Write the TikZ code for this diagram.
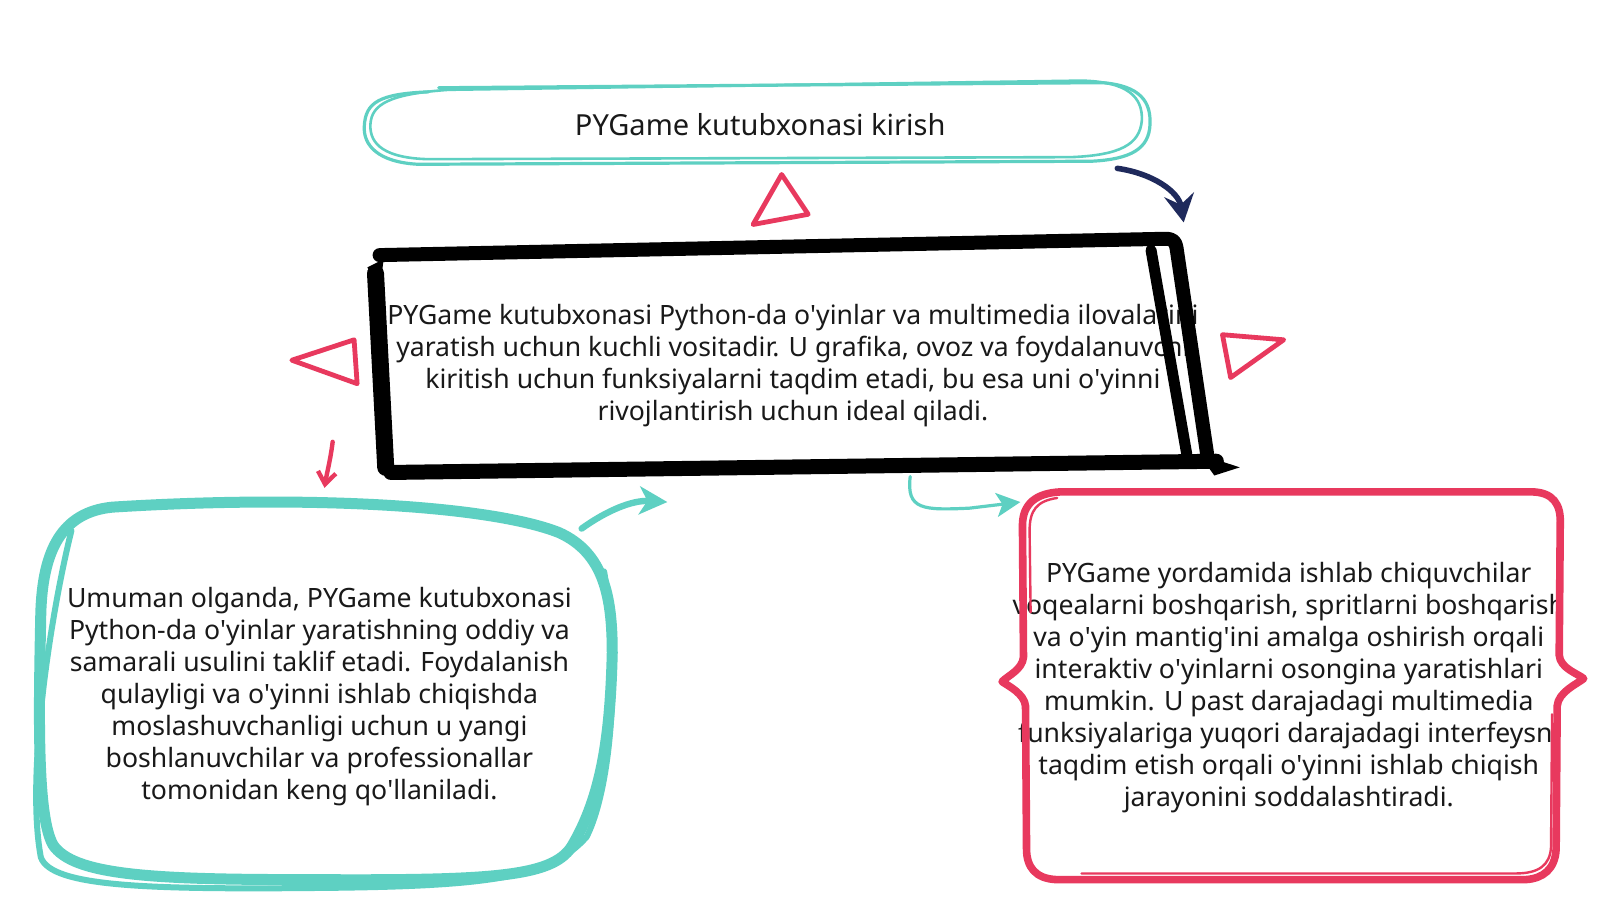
\documentclass[tikz,border=0pt]{standalone}
\usepackage{fontspec}
\setmainfont{Noto Sans}
\usetikzlibrary{arrows.meta}
\definecolor{teal1}{HTML}{5ED0C2}
\definecolor{pink1}{HTML}{E8395E}
\definecolor{navy1}{HTML}{1F2A5C}
\newcommand{\ap}{\textquotesingle}
\tikzset{
  txt/.style={align=center, inner sep=0pt, font=\fontsize{13.3}{16}\selectfont, text=black!90},
  tealline/.style={draw=teal1, line width=1.6pt, line cap=round, line join=round},
  blackline/.style={draw=black, line width=6pt, line cap=round, line join=round},
  pinkline/.style={draw=pink1, line width=3.8pt, line cap=round, line join=round},
  tri/.style={draw=pink1, line width=2.4pt, line join=round},
  arr/.style={line cap=round}
}
\begin{document}
\begin{tikzpicture}[x=0.5102pt,y=-0.5102pt]
\useasboundingbox[fill=white] (0,0) rectangle (1568,882);

% ---------- text nodes ----------
\node[txt, font=\fontsize{14.5}{17}\selectfont] (top) at (745,122) {PYGame kutubxonasi kirish};
\node[txt] (mid) at (777,358) {PYGame kutubxonasi Python-da o\ap yinlar va multimedia ilovalarini\\
yaratish uchun kuchli vositadir. U grafika, ovoz va foydalanuvchi\\
kiritish uchun funksiyalarni taqdim etadi, bu esa uni o\ap yinni\\
rivojlantirish uchun ideal qiladi.};
\node[txt] (left) at (313,683) {Umuman olganda, PYGame kutubxonasi\\
Python-da o\ap yinlar yaratishning oddiy va\\
samarali usulini taklif etadi. Foydalanish\\
qulayligi va o\ap yinni ishlab chiqishda\\
moslashuvchanligi uchun u yangi\\
boshlanuvchilar va professionallar\\
tomonidan keng qo\ap llaniladi.};
\node[txt] (right) at (1263,674) {PYGame yordamida ishlab chiquvchilar\\
voqealarni boshqarish, spritlarni boshqarish\\
va o\ap yin mantig\ap ini amalga oshirish orqali\\
interaktiv o\ap yinlarni osongina yaratishlari\\
mumkin. U past darajadagi multimedia\\
funksiyalariga yuqori darajadagi interfeysni\\
taqdim etish orqali o\ap yinni ishlab chiqish\\
jarayonini soddalashtiradi.};

% ---------- top pill (teal, sketchy double stroke) ----------
\draw[tealline] (430,86) -- (1080,81) .. controls (1118,84) and (1128,100) .. (1127,122)
  .. controls (1126,146) and (1108,156) .. (1070,158) -- (410,161)
  .. controls (370,159) and (356,142) .. (357,124) .. controls (358,100) and (372,92) .. (420,90);
\draw[tealline, line width=1.3pt] (440,88) -- (1060,79) .. controls (1105,80) and (1120,95) .. (1119,118)
  .. controls (1117,142) and (1097,152) .. (1050,154) -- (420,156)
  .. controls (378,155) and (362,142) .. (363,122) .. controls (364,102) and (382,92) .. (440,88);

% ---------- centre box (black, heavy sketch) ----------
\draw[blackline, line width=7pt] (372,250) -- (1142,234) .. controls (1150,234) and (1152,237) .. (1153,243) -- (1184,452);
\draw[blackline, line width=5.5pt] (1128,245) -- (1163,445);
\draw[blackline, line width=7.5pt] (1192,452) -- (383,463);
\draw[blackline, line width=8.5pt] (368,268) -- (378,458);
\fill[black] (1175,445) -- (1215,458) -- (1190,466) -- cycle;
\fill[black] (360,262) -- (376,254) -- (372,285) -- cycle;

% ---------- left box (teal blob) ----------
\draw[tealline, line width=5.5pt] (110,497) .. controls (300,485) and (480,495) .. (548,522)
  .. controls (592,542) and (600,585) .. (600,640) .. controls (598,720) and (590,780) .. (560,830)
  .. controls (540,860) and (480,863) .. (300,862) .. controls (150,862) and (72,858) .. (52,828)
  .. controls (36,800) and (38,700) .. (40,600) .. controls (42,540) and (60,502) .. (110,497);
\draw[tealline, line width=3pt] (70,520) .. controls (50,600) and (25,760) .. (40,840)
  .. controls (50,870) and (150,872) .. (330,870) .. controls (480,868) and (540,860) .. (575,820)
  .. controls (600,770) and (608,650) .. (592,560);

% ---------- right box (pink bracket shape) ----------
\draw[pinkline] (1040,482) -- (1500,482) .. controls (1522,482) and (1530,494) .. (1529,514)
  -- (1528,642) .. controls (1529,655) and (1546,660) .. (1552,665)
  .. controls (1546,670) and (1527,678) .. (1526,692) -- (1525,832)
  .. controls (1524,852) and (1512,861) .. (1495,862) -- (1035,862)
  .. controls (1015,861) and (1006,850) .. (1006,832) -- (1005,692)
  .. controls (1004,680) and (988,672) .. (982,668)
  .. controls (988,662) and (1002,656) .. (1003,644) -- (1002,515)
  .. controls (1002,494) and (1015,483) .. (1040,482);
\draw[pinkline, line width=1.2pt] (1036,488) .. controls (1016,491) and (1009,500) .. (1009,520)
  -- (1010,600);
\draw[pinkline, line width=1.2pt] (1521,700) -- (1520,830) .. controls (1519,848) and (1508,856) .. (1485,856)
  -- (1060,856);

% ---------- pink triangles ----------
\draw[tri] (738,220) -- (766,171) -- (792,210) -- cycle;
\draw[tri] (286,353) -- (347,333) -- (350,376) -- cycle;
\draw[tri] (1198,328) -- (1258,333) -- (1206,370) -- cycle;

% ---------- connectors ----------
\coordinate (a1s) at (1095,165);
\coordinate (a1e) at (1160,218);
\draw[arr, draw=navy1, line width=2.8pt, -{Stealth[length=14pt,width=15pt,inset=5pt]}]
  (a1s) .. controls (1130,170) and (1155,188) .. (a1e);

\coordinate (a2s) at (326,433);
\coordinate (a2e) at (318,478);
\draw[arr, draw=pink1, line width=2.2pt, -{Straight Barb[length=6pt,width=9pt]}] (a2s) .. controls (324,450) and (320,465) .. (a2e);

\coordinate (a3s) at (570,518);
\coordinate (a3e) at (654,492);
\draw[arr, draw=teal1, line width=3.2pt, -{Stealth[length=14pt,width=14pt,inset=4pt]}]
  (a3s) .. controls (595,500) and (620,490) .. (a3e);

\coordinate (a4s) at (892,467);
\coordinate (a4e) at (1000,492);
\draw[arr, draw=teal1, line width=1.6pt, -{Stealth[length=12pt,width=12pt,inset=3pt]}]
  (a4s) .. controls (888,500) and (905,500) .. (950,498) -- (a4e);
\end{tikzpicture}
\end{document}
